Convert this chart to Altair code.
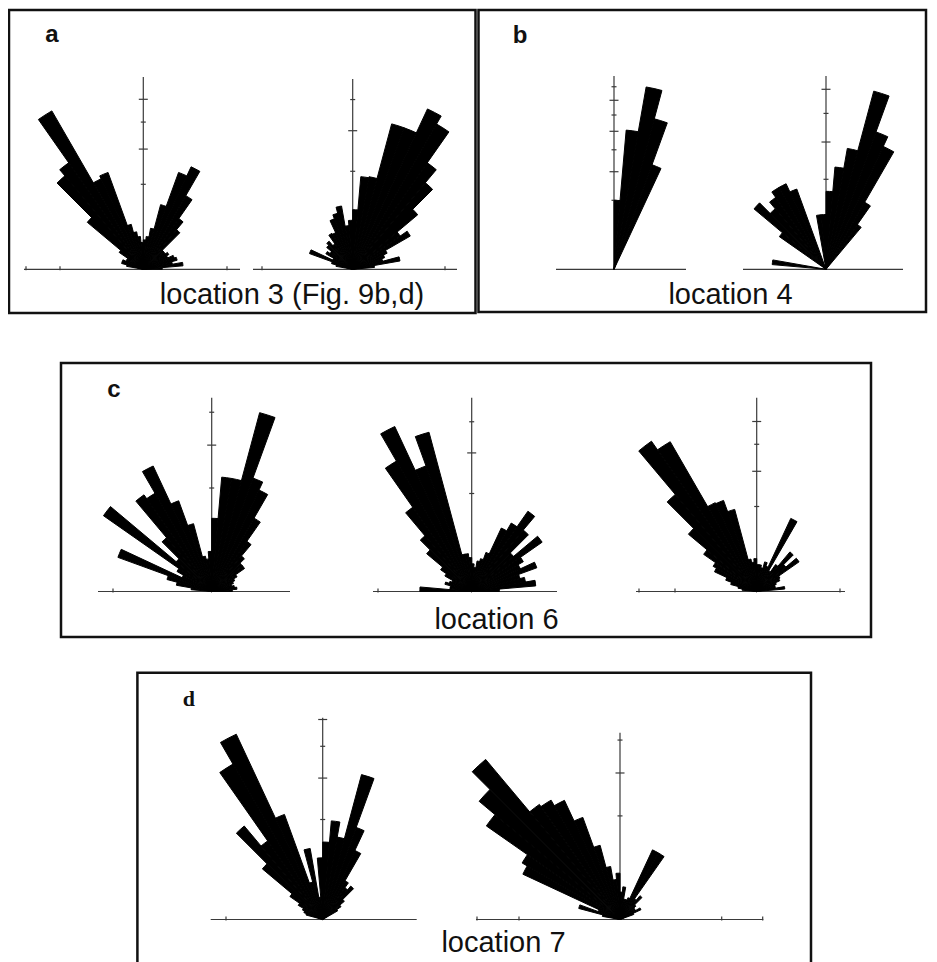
import math
import altair as alt
import pandas as pd

# ---------------------------------------------------------------- data
# Half-rose diagrams: counts per 5-degree bin, bins start at -90 (left) ... 85.
# Values are in units of the first radial tick (radius is area-proportional).
BIN_START = list(range(-90, 90, 5))
BIN_WIDTH = 5

A_LEFT = [0, 0, 0.04, 0.07, 0.07, 0.05, 0.05, 0.12, 0.74, 2.06, 2.34, 4.63,
          1.38, 1.47, 0.3, 0.2, 0.15, 0.1, 0.12, 0.15, 0.24, 0.62, 1.47, 1.77,
          1.0, 0.53, 0.37, 0.1, 0.1, 0.12, 0.1, 0.15, 0.17, 0.12, 0.22, 0.05]
A_RIGHT = [0, 0, 0.03, 0.05, 0.22, 0.05, 0.1, 0.08, 0.12, 0.14, 0.1, 0.18,
           0.17, 0.3, 0.35, 0.43, 0.2, 0.25, 0.37, 0.9, 0.92, 2.36, 2.36, 3.26,
           2.93, 1.76, 1.33, 0.75, 0.35, 0.46, 0.15, 0.12, 0.1, 0.24, 0.05, 0]
B_LEFT = [0, 0, 0, 0, 0, 0, 0, 0, 0, 0, 0, 0,
          0, 0, 0, 0, 0, 0, 1.0, 4.1, 7.2, 5.1, 2.6, 0,
          0, 0, 0, 0, 0, 0, 0, 0, 0, 0, 0, 0]
B_RIGHT = [0, 0.36, 0, 0, 0, 0, 0, 0.4, 1.09, 0.77, 0.95, 1.1,
           1.1, 0.9, 0, 0, 0.37, 0.37, 0.75, 1.3, 1.86, 4.2, 2.64, 2.27,
           0.74, 0.37, 0, 0, 0, 0, 0, 0, 0, 0, 0, 0]
C_LEFT = [0, 0.04, 0.12, 0.2, 0.93, 0.1, 0.15, 1.63, 0.2, 0.46, 1.3, 1.2,
          1.79, 0.87, 0.46, 0.12, 0.1, 0.15, 0.5, 1.23, 1.23, 3.2, 1.36, 1.17,
          0.67, 0.35, 0.2, 0.15, 0.15, 0.08, 0.06, 0.05, 0.04, 0.05, 0.06, 0.04]
C_MID = [0.28, 0.05, 0.05, 0.08, 0.06, 0.05, 0.1, 0.15, 0.36, 0.55, 1.1, 2.36,
         3.45, 1.86, 2.83, 0.15, 0.15, 0.12, 0.08, 0.06, 0.1, 0.12, 0.18, 0.51,
         0.65, 1.0, 0.67, 0.31, 0.77, 0.37, 0.3, 0.5, 0.26, 0.31, 0.43, 0.08]
C_RIGHT = [0, 0.03, 0.05, 0.1, 0.15, 0.3, 0.35, 0.58, 1.1, 2.22, 4.66, 4.14,
           1.33, 1.3, 1.0, 0.15, 0.12, 0.15, 0.1, 0.1, 0.08, 0.13, 0.1, 0.9,
           0.08, 0.15, 0.37, 0.2, 0.37, 0.1, 0.09, 0.06, 0.05, 0.05, 0.11, 0]
D_LEFT = [0, 0, 0, 0.03, 0.04, 0.05, 0.08, 0.16, 0.62, 1.49, 0.92, 3.22,
          4.18, 1.25, 0.15, 0.52, 0.05, 0.38, 0.6, 0.98, 0.7, 2.25, 0.96, 0.58,
          0.2, 0.15, 0.19, 0.08, 0.05, 0.03, 0, 0, 0, 0, 0, 0]
D_RIGHT = [0, 0, 0.03, 0.17, 0.05, 1.07, 1.19, 2.48, 3.15, 4.07, 1.84, 1.77,
           1.61, 1.1, 0.55, 0.27, 0.15, 0.2, 0.07, 0.1, 0.04, 0.04, 0.05, 0.55,
           0.55, 0.06, 0.09, 0.04, 0.03, 0.03, 0.05, 0.02, 0, 0, 0, 0]

PANEL_LETTERS = ["a", "b", "c", "d"]
CAPTIONS = ["location 3 (Fig. 9b,d)", "location 4", "location 6", "location 7"]

# ---------------------------------------------------------------- layout
W, H = 921, 954

# rose layout: centre, px per radial unit, baseline extent, baseline ticks,
# top of the vertical axis, number of radial ticks
ROSES = [
    dict(values=A_LEFT, cx=135.3, cy=261.3, unit=85, base=(16, 232), bticks=[18, 52, 219], vtop=69, nt=4),
    dict(values=A_RIGHT, cx=344.7, cy=261.3, unit=98, base=(245, 449), bticks=[254, 437], vtop=71, nt=3),
    dict(values=B_LEFT, cx=606, cy=261.3, unit=69, base=(548, 678), bticks=[], vtop=68, nt=7),
    dict(values=B_RIGHT, cx=818, cy=261.3, unit=90, base=(735, 895), bticks=[], vtop=68, nt=4),
    dict(values=C_LEFT, cx=203.7, cy=583.5, unit=103.5, base=(90, 282), bticks=[105], vtop=389.7, nt=3),
    dict(values=C_MID, cx=463.7, cy=583.5, unit=98, base=(365, 549), bticks=[370], vtop=389.7, nt=3),
    dict(values=C_RIGHT, cx=748.7, cy=583.5, unit=85, base=(628, 837), bticks=[631, 667, 832], vtop=389.7, nt=4),
    dict(values=D_LEFT, cx=314.7, cy=911.5, unit=100, base=(202.7, 408.7), bticks=[218], vtop=709.7, nt=4),
    dict(values=D_RIGHT, cx=612, cy=911.5, unit=103.6, base=(468, 755.3), bticks=[469, 511, 713.7, 754.7], vtop=724.7, nt=3),
]

BOXES = [(1, 2, 467.5, 305), (470.5, 2, 918, 304), (53, 355, 863, 629), (129.4, 664.7, 803, 995)]
LETTER_POS = [(44, 33.5), (512, 34.5), (106, 389), (180.9, 698)]
CAPTION_POS = [(284, 296), (722.5, 296), (488.5, 621), (495.5, 943.7)]

XS = alt.Scale(domain=[0, W], nice=False, zero=False)
YS = alt.Scale(domain=[0, H], nice=False, zero=False, reverse=True)
TS = alt.Scale(domain=[-90, 90], range=[-math.pi / 2, math.pi / 2])

SANS = "Liberation Sans, Arial, Helvetica, sans-serif"
SERIF = "Liberation Serif, Times New Roman, serif"

# ---------------------------------------------------------------- layers
box_df = pd.DataFrame([dict(x=b[0], y=b[1], x2=b[2], y2=b[3]) for b in BOXES])
boxes = alt.Chart(box_df).mark_rect(fillOpacity=0, stroke="#111111", strokeWidth=2.5, clip=True).encode(
    x=alt.X("x:Q", scale=XS, axis=None), x2="x2:Q",
    y=alt.Y("y:Q", scale=YS, axis=None), y2="y2:Q",
)

rule_rows = []
for r in ROSES:
    cx, cy, u = r["cx"], r["cy"], r["unit"]
    rule_rows.append(dict(x=r["base"][0], x2=r["base"][1], y=cy, y2=cy))
    rule_rows.append(dict(x=cx, x2=cx, y=cy, y2=r["vtop"]))
    for k in range(1, r["nt"] + 1):
        half = 4.5 if k % 2 == 0 else 2.5
        yk = cy - u * math.sqrt(k)
        rule_rows.append(dict(x=cx - half, x2=cx + half, y=yk, y2=yk))
    for t in r["bticks"]:
        rule_rows.append(dict(x=t, x2=t, y=cy - 3, y2=cy + 1))
rules = alt.Chart(pd.DataFrame(rule_rows)).mark_rule(color="#3a3a3a", strokeWidth=1.2).encode(
    x=alt.X("x:Q", scale=XS, axis=None), x2="x2:Q",
    y=alt.Y("y:Q", scale=YS, axis=None), y2="y2:Q",
)


def rose_layer(r):
    rows = [dict(a0=s, a1=s + BIN_WIDTH, v=v, cx=r["cx"], cy=r["cy"])
            for s, v in zip(BIN_START, r["values"]) if v > 0]
    return alt.Chart(pd.DataFrame(rows)).mark_arc(
        fill="#000000", stroke="#000000", strokeWidth=1.0, strokeJoin="round"
    ).encode(
        x=alt.X("cx:Q", scale=XS, axis=None),
        y=alt.Y("cy:Q", scale=YS, axis=None),
        theta=alt.Theta("a0:Q", scale=TS, stack=None),
        theta2=alt.Theta2("a1"),
        radius=alt.Radius("v:Q", scale=alt.Scale(type="sqrt", domain=[0, 1], range=[0, r["unit"]], zero=True)),
    )


rose_layers = [rose_layer(r) for r in ROSES]

letter_df = pd.DataFrame([dict(t=t, x=p[0], y=p[1]) for t, p in zip(PANEL_LETTERS, LETTER_POS)])
letters_sans = alt.Chart(letter_df[letter_df.t != "d"]).mark_text(
    font=SANS, fontSize=24, fontWeight="bold", align="center", baseline="alphabetic", color="#111111"
).encode(x=alt.X("x:Q", scale=XS, axis=None), y=alt.Y("y:Q", scale=YS, axis=None), text="t:N")
letters_serif = alt.Chart(letter_df[letter_df.t == "d"]).mark_text(
    font=SERIF, fontSize=22, fontWeight="bold", align="center", baseline="alphabetic", color="#111111"
).encode(x=alt.X("x:Q", scale=XS, axis=None), y=alt.Y("y:Q", scale=YS, axis=None), text="t:N")

cap_df = pd.DataFrame([dict(t=t, x=p[0], y=p[1]) for t, p in zip(CAPTIONS, CAPTION_POS)])
captions = alt.Chart(cap_df).mark_text(
    font=SANS, fontSize=29, align="center", baseline="alphabetic", color="#111111"
).encode(x=alt.X("x:Q", scale=XS, axis=None), y=alt.Y("y:Q", scale=YS, axis=None), text="t:N")

chart = alt.layer(boxes, rules, *rose_layers, letters_sans, letters_serif, captions).resolve_scale(
    radius="independent"
).properties(width=W, height=H, padding=0).configure_view(strokeWidth=0)

chart.save("out.html", embed_options={"renderer": "svg", "actions": False})
